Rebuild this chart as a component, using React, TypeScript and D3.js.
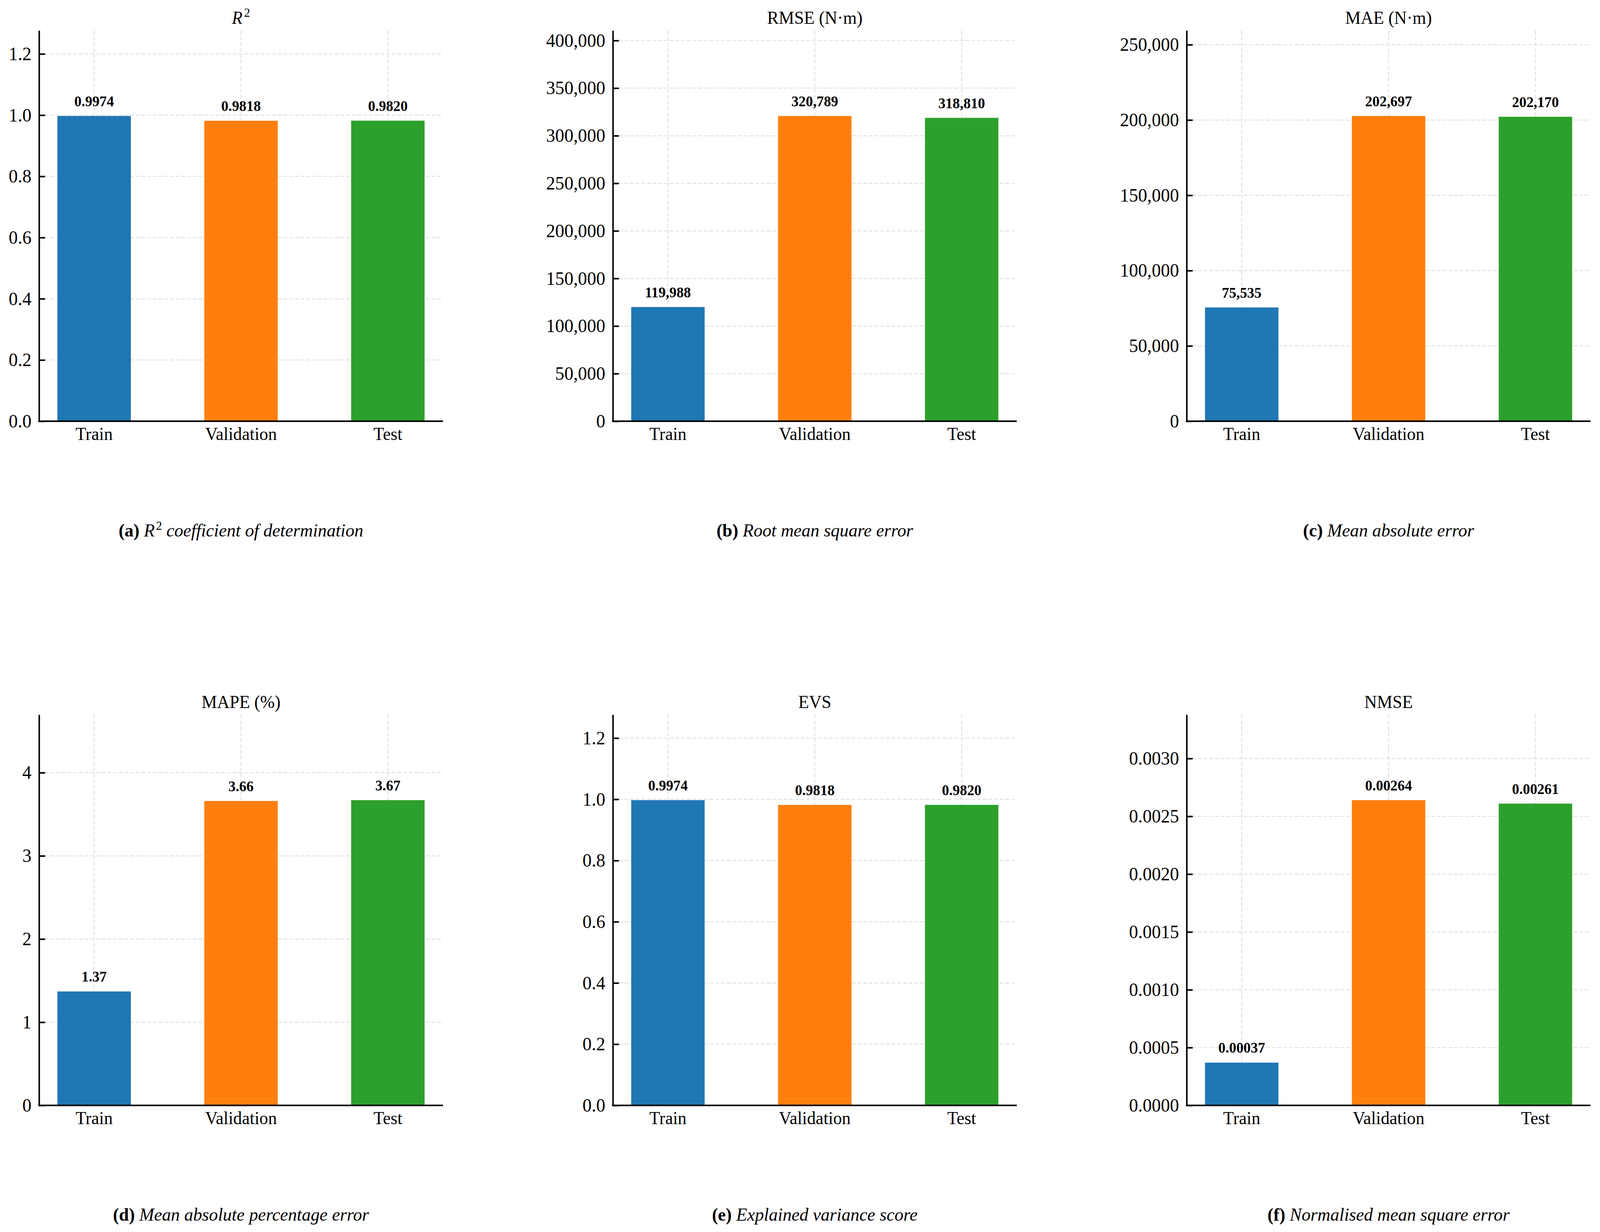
import { useRef, useEffect } from 'react';
import * as d3 from 'd3';

const categories = ['Train', 'Validation', 'Test'];
const barColors = ['#1f77b4', '#ff7f0e', '#2ca02c'];

const r2Values = [0.9974, 0.9818, 0.982];
const rmseValues = [119988, 320789, 318810];
const maeValues = [75535, 202697, 202170];
const mapeValues = [1.37, 3.66, 3.67];
const evsValues = [0.9974, 0.9818, 0.982];
const nmseValues = [0.00037, 0.00264, 0.00261];

const r2Ticks = [0, 0.2, 0.4, 0.6, 0.8, 1.0, 1.2];
const rmseTicks = [0, 50000, 100000, 150000, 200000, 250000, 300000, 350000, 400000];
const maeTicks = [0, 50000, 100000, 150000, 200000, 250000];
const mapeTicks = [0, 1, 2, 3, 4];
const evsTicks = [0, 0.2, 0.4, 0.6, 0.8, 1.0, 1.2];
const nmseTicks = [0, 0.0005, 0.001, 0.0015, 0.002, 0.0025, 0.003];

const titles = ['R', 'RMSE (N·m)', 'MAE (N·m)', 'MAPE (%)', 'EVS', 'NMSE'];
const captionTags = ['(a)', '(b)', '(c)', '(d)', '(e)', '(f)'];
const captionTexts = [
  'coefficient of determination',
  'Root mean square error',
  'Mean absolute error',
  'Mean absolute percentage error',
  'Explained variance score',
  'Normalised mean square error',
];
const tickFormats = ['.1f', ',', ',', 'd', '.1f', '.4f'];
const labelFormats = ['.4f', ',', ',', '.2f', '.4f', '.5f'];

const WIDTH = 4219;
const HEIGHT = 3153;
const FONT = "'Liberation Serif', 'Times New Roman', serif";

export default function App() {
  const svgRef = useRef<SVGSVGElement>(null);

  useEffect(() => {
    if (!svgRef.current) return;
    document.body.style.overflow = 'hidden';
    const svg = d3.select(svgRef.current);
    svg.selectAll('*').remove();

    svg.append('rect').attr('width', WIDTH).attr('height', HEIGHT).attr('fill', '#fff');

    const panels = [
      { values: r2Values, ticks: r2Ticks },
      { values: rmseValues, ticks: rmseTicks },
      { values: maeValues, ticks: maeTicks },
      { values: mapeValues, ticks: mapeTicks },
      { values: evsValues, ticks: evsTicks },
      { values: nmseValues, ticks: nmseTicks },
    ];

    const lefts = [103, 1616, 3129];
    const tops = [78, 1829];
    const w = 1065;
    const h = 1000;

    panels.forEach((p, i) => {
      const left = lefts[i % 3];
      const top = tops[Math.floor(i / 3)];
      const g = svg.append('g').attr('transform', `translate(${left},${top})`);

      const x = d3.scaleBand<string>()
        .domain(categories)
        .range([0, w])
        .paddingInner(0.5)
        .paddingOuter(0.125);

      const y = d3.scaleLinear()
        .domain([0, (d3.max(p.values) as number) * 1.28])
        .range([h, 0]);

      // grid, dashed
      g.append('g')
        .selectAll('line')
        .data(p.ticks)
        .join('line')
        .attr('x1', 0)
        .attr('x2', w)
        .attr('y1', (d) => y(d))
        .attr('y2', (d) => y(d))
        .attr('stroke', '#e2e2e2')
        .attr('stroke-width', 2.5)
        .attr('stroke-dasharray', '10,5');

      g.append('g')
        .selectAll('line')
        .data(categories)
        .join('line')
        .attr('x1', (d) => (x(d) as number) + x.bandwidth() / 2)
        .attr('x2', (d) => (x(d) as number) + x.bandwidth() / 2)
        .attr('y1', 0)
        .attr('y2', h)
        .attr('stroke', '#e2e2e2')
        .attr('stroke-width', 2.5)
        .attr('stroke-dasharray', '10,5');

      // bars
      g.append('g')
        .selectAll('rect')
        .data(p.values)
        .join('rect')
        .attr('x', (_, j) => x(categories[j]) as number)
        .attr('y', (d) => y(d))
        .attr('width', x.bandwidth())
        .attr('height', (d) => h - y(d))
        .attr('fill', (_, j) => barColors[j]);

      // value labels
      const fmtLabel = d3.format(labelFormats[i]);
      g.append('g')
        .selectAll('text')
        .data(p.values)
        .join('text')
        .attr('x', (_, j) => (x(categories[j]) as number) + x.bandwidth() / 2)
        .attr('y', (d) => y(d) - 25)
        .attr('text-anchor', 'middle')
        .attr('font-size', 38)
        .attr('font-weight', 700)
        .text((d) => fmtLabel(d));

      // y axis, ticks pointing inward
      const yAxis = g.append('g').call(
        d3.axisLeft(y)
          .tickValues(p.ticks)
          .tickFormat(d3.format(tickFormats[i]) as any)
          .tickSizeInner(-16)
          .tickSizeOuter(0)
          .tickPadding(20)
      );
      yAxis.select('.domain').attr('stroke', '#000').attr('stroke-width', 4);
      yAxis.selectAll('.tick line').attr('stroke', '#000').attr('stroke-width', 4);
      yAxis.selectAll('.tick text')
        .attr('font-family', FONT)
        .attr('font-size', 48)
        .attr('fill', '#000');

      // bottom spine
      g.append('line')
        .attr('x1', -2)
        .attr('x2', w)
        .attr('y1', h)
        .attr('y2', h)
        .attr('stroke', '#000')
        .attr('stroke-width', 4);

      // category labels
      g.append('g')
        .selectAll('text')
        .data(categories)
        .join('text')
        .attr('x', (d) => (x(d) as number) + x.bandwidth() / 2)
        .attr('y', h + 48)
        .attr('text-anchor', 'middle')
        .attr('font-size', 46)
        .text((d) => d);

      // title
      const title = g.append('text')
        .attr('x', w / 2)
        .attr('y', -17)
        .attr('text-anchor', 'middle')
        .attr('font-size', 46);
      if (i === 0) {
        title.append('tspan').attr('font-style', 'italic').text('R');
        title.append('tspan').attr('font-size', 32).attr('dy', -18).attr('dx', 4).text('2');
      } else {
        title.text(titles[i]);
      }

      // caption
      const cap = g.append('text')
        .attr('x', w / 2)
        .attr('y', h + 295)
        .attr('text-anchor', 'middle')
        .attr('font-size', 47);
      cap.append('tspan').attr('font-weight', 700).text(captionTags[i] + ' ');
      if (i === 0) {
        cap.append('tspan').attr('font-style', 'italic').text('R');
        cap.append('tspan').attr('font-size', 32).attr('dy', -17).attr('dx', 3).text('2');
        cap.append('tspan').attr('font-style', 'italic').attr('dy', 17).text(' ' + captionTexts[i]);
      } else {
        cap.append('tspan').attr('font-style', 'italic').text(captionTexts[i]);
      }
    });
  }, []);

  return (
    <svg
      ref={svgRef}
      viewBox={`0 0 ${WIDTH} ${HEIGHT}`}
      preserveAspectRatio="none"
      fontFamily={FONT}
      style={{ position: 'absolute', left: 0, top: 0, width: '100vw', height: '100vh', display: 'block' }}
    />
  );
}
